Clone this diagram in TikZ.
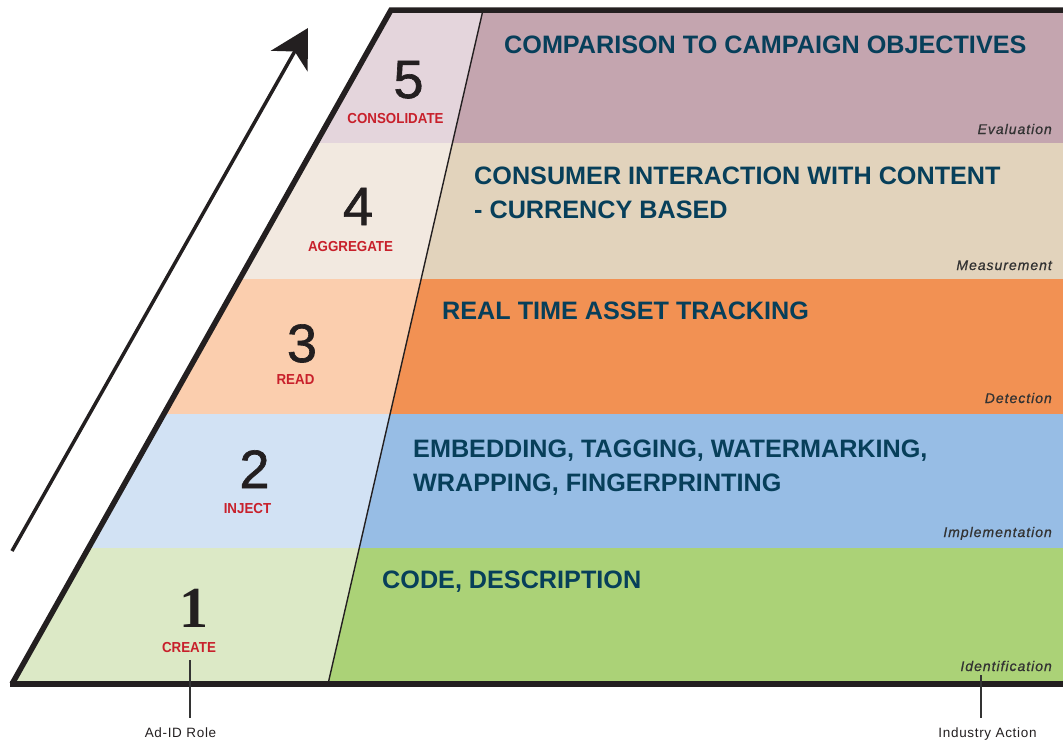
\documentclass[tikz,border=0pt]{standalone}
\usepackage{fontspec}
\setmainfont{Liberation Sans}
\newfontfamily\onefont{Liberation Serif}
\newfontfamily\numfont[FakeBold=1.2]{Liberation Sans}
\newfontfamily\labfont[LetterSpace=7,FakeBold=0.7]{Liberation Sans}
\newfontfamily\botfont[LetterSpace=5]{Liberation Sans}
\usetikzlibrary{arrows.meta}
\definecolor{lfive}{HTML}{E4D5DC}
\definecolor{rfive}{HTML}{C4A5AF}
\definecolor{lfour}{HTML}{F2E9E0}
\definecolor{rfour}{HTML}{E2D3BC}
\definecolor{lthree}{HTML}{FBCEAE}
\definecolor{rthree}{HTML}{F29153}
\definecolor{ltwo}{HTML}{D2E2F4}
\definecolor{rtwo}{HTML}{97BDE5}
\definecolor{lone}{HTML}{DCE9C6}
\definecolor{rone}{HTML}{ABD277}
\definecolor{tealtxt}{HTML}{073F5A}
\definecolor{redtxt}{HTML}{C8202B}
\definecolor{frame}{HTML}{231F20}
\definecolor{graytxt}{HTML}{333333}
\tikzset{
  bigtext/.style={inner sep=0pt, anchor=base west, text=tealtxt, font=\fontsize{25.2}{30}\selectfont\bfseries},
  numtext/.style={inner sep=0pt, anchor=base, text=frame, font=\numfont\fontsize{54}{60}\selectfont},
  roletext/.style={inner sep=0pt, anchor=base, text=redtxt, font=\fontsize{14.5}{17}\selectfont\bfseries},
  acttext/.style={inner sep=0pt, anchor=base east, text=graytxt, font=\labfont\fontsize{14}{17}\selectfont\itshape},
  bottext/.style={inner sep=0pt, anchor=base, text=frame, font=\botfont\fontsize{13.5}{16}\selectfont},
  pointer/.style={draw=graytxt, line width=1.2pt},
}
\begin{document}
\begin{tikzpicture}[x=1pt,y=-1pt]
\useasboundingbox (0,0) rectangle (1063,742);
% left column fills
\fill[lfive]  (391,10) -- (483,10) -- (452.4,143) -- (316.2,143) -- cycle;
\fill[lfour]  (316.2,143) -- (452.4,143) -- (421.2,279) -- (239.7,279) -- cycle;
\fill[lthree] (239.7,279) -- (421.2,279) -- (390.1,414) -- (163.8,414) -- cycle;
\fill[ltwo]   (163.8,414) -- (390.1,414) -- (359.3,548) -- (88.5,548) -- cycle;
\fill[lone]   (88.5,548) -- (359.3,548) -- (328,684) -- (12,684) -- cycle;
% right column fills
\fill[rfive]  (483,10) -- (1063,10) -- (1063,143) -- (452.4,143) -- cycle;
\fill[rfour]  (452.4,143) -- (1063,143) -- (1063,279) -- (421.2,279) -- cycle;
\fill[rthree] (421.2,279) -- (1063,279) -- (1063,414) -- (390.1,414) -- cycle;
\fill[rtwo]   (390.1,414) -- (1063,414) -- (1063,548) -- (359.3,548) -- cycle;
\fill[rone]   (359.3,548) -- (1063,548) -- (1063,684) -- (328,684) -- cycle;
% divider and frame
\draw[frame, line width=1.4pt] (483,10) -- (328,684);
\draw[frame, line width=5.5pt, line join=miter] (1063,10) -- (391,10) -- (12,684);
\draw[frame, line width=5.2pt] (10,684) -- (1063,684);
% arrow
\coordinate (arrS) at (12,551);
\coordinate (arrE) at (308,28);
\draw[frame, line width=3.5pt, -{Stealth[length=38pt,width=42pt,inset=11pt]}] (arrS) -- (arrE);
% numbers
\node[numtext] (n5) at (408.5,98) {5};
\node[numtext] (n4) at (358,225) {4};
\node[numtext] (n3) at (302,362) {3};
\node[numtext] (n2) at (254.5,488) {2};
\node[numtext, font=\onefont\fontsize{58}{64}\selectfont\bfseries] (n1) at (193.5,627) {1};
% roles
\node[roletext] (r5) at (395.5,123) {\scalebox{0.92}[1]{CONSOLIDATE}};
\node[roletext] (r4) at (350.5,251) {\scalebox{0.92}[1]{AGGREGATE}};
\node[roletext] (r3) at (295.5,384) {\scalebox{0.92}[1]{READ}};
\node[roletext] (r2) at (247.5,513) {\scalebox{0.92}[1]{INJECT}};
\node[roletext] (r1) at (189,652) {\scalebox{0.92}[1]{CREATE}};
% industry actions
\node[bigtext] (t5) at (504,53) {COMPARISON TO CAMPAIGN OBJECTIVES};
\node[bigtext] (t4a) at (474,184) {CONSUMER INTERACTION WITH CONTENT};
\node[bigtext] (t4b) at (474,218) {- CURRENCY BASED};
\node[bigtext] (t3) at (442,319) {REAL TIME ASSET TRACKING};
\node[bigtext] (t2a) at (413,457) {EMBEDDING, TAGGING, WATERMARKING,};
\node[bigtext] (t2b) at (413,491) {WRAPPING, FINGERPRINTING};
\node[bigtext] (t1) at (382,588) {CODE, DESCRIPTION};
% stage labels
\node[acttext] (s5) at (1052,134) {Evaluation};
\node[acttext] (s4) at (1052,270) {Measurement};
\node[acttext] (s3) at (1052,403) {Detection};
\node[acttext] (s2) at (1052,537) {Implementation};
\node[acttext] (s1) at (1052,671) {Identification};
% bottom labels with pointers
\node[bottext] (adid) at (180.5,737) {Ad-ID Role};
\node[bottext] (indact) at (987.5,737) {Industry Action};
\coordinate (pA1) at (190,660);
\coordinate (pA2) at (190,718);
\coordinate (pB1) at (981,675);
\coordinate (pB2) at (981,718);
\draw[pointer] (pA1) -- (pA2);
\draw[pointer] (pB1) -- (pB2);
\end{tikzpicture}
\end{document}
